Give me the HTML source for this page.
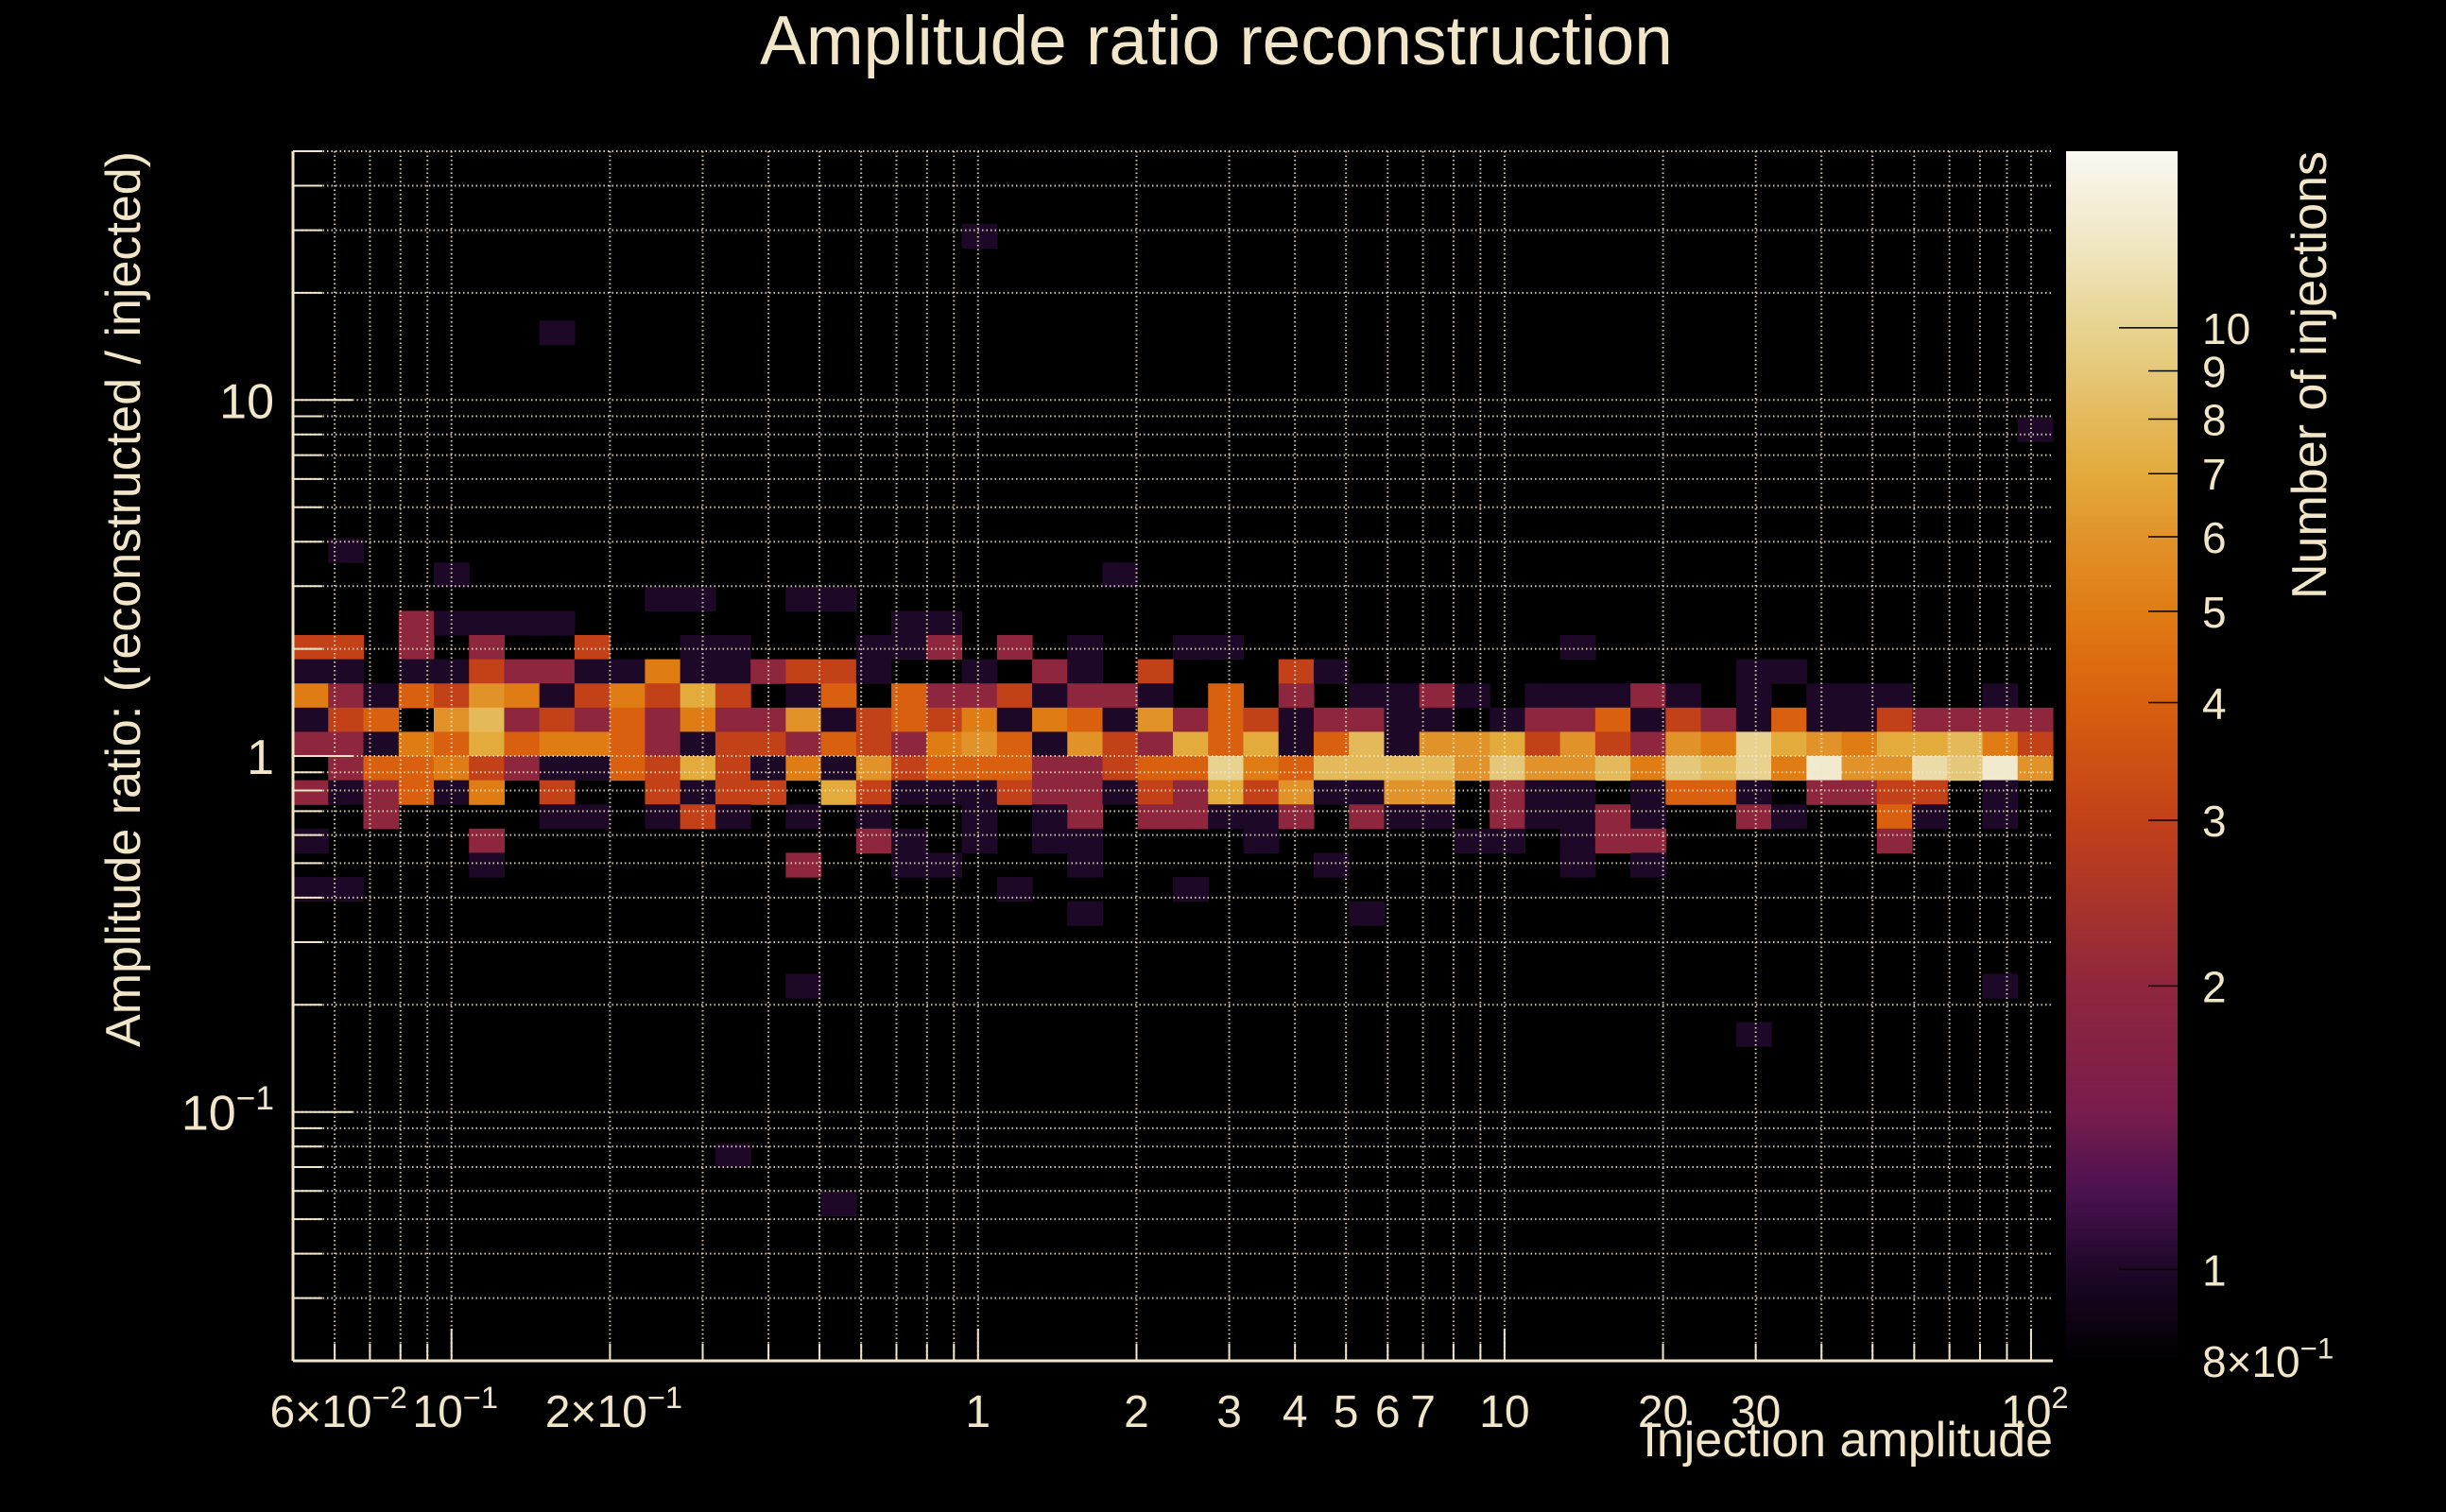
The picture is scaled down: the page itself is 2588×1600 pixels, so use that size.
<!DOCTYPE html>
<html><head><meta charset="utf-8"><style>
html,body{margin:0;padding:0;background:#000;}
svg{display:block;font-family:"Liberation Sans",sans-serif;}
</style></head><body>
<svg id="chart" width="2588" height="1600" viewBox="0 0 2588 1600" xmlns="http://www.w3.org/2000/svg">
<rect x="0" y="0" width="2588" height="1600" fill="#000"/>
<g id="cells"></g>
<g id="grid"></g>
<g id="axes"></g>
<g id="cbar"></g>
<text x="1287" y="68" fill="#f2e6c8" font-size="73" text-anchor="middle">Amplitude ratio reconstruction</text>
<text x="2172" y="1541" fill="#f2e6c8" font-size="52" text-anchor="end">Injection amplitude</text>
<text transform="translate(148,160) rotate(-90)" fill="#f2e6c8" font-size="52" text-anchor="end">Amplitude ratio: (reconstructed / injected)</text>
<text transform="translate(2461,160) rotate(-90)" fill="#f2e6c8" font-size="52" text-anchor="end">Number of injections</text>
</svg>
<script>
// ---- data ----
const xRange = [0.05, 110];
const yRange = [0.02, 50];
const nBinsX = 50;
const nBinsY = 50;
const zRange = [0.8, 15.4];
const bandRowStart = 18;
const bandRows = [
"00000000001100110000000000000000000000000000000000",
"00021111000000000110000000000000000000000000000000",
"33020200300110001120201001100000000010000000000000",
"11011322115112331001021030003100000000000110000000",
"52143651353730140422312210402011210111210101110010",
"13406823242522613435154162431221101224132141132222",
"22154745542133243256416327471481667363265a76577853",
"02445321143731516344422344a54888869668598a5d66b9d6",
"21241503003133073111322132736116602110144102233010",
"00200001101310101001012022112021102112100210041010",
"10000200000000002101011000010000011012200000020000",
"00000100000000200110001000000100000010100000000000",
"11000000000000000000100001000000000000000000000000",
"00000000000000000000001000000010000000000000000000"
];
const isolatedRows = [3, 7, 11, 16, 17, 17, 34, 34, 36, 41, 43];
const isolatedCols = [19, 7, 49, 1, 4, 23, 14, 48, 41, 12, 15];
const isolatedCounts = [1, 1, 1, 1, 1, 1, 1, 1, 1, 1, 1];
const xTickValues = [0.06, 0.1, 0.2, 1, 2, 3, 4, 5, 6, 7, 10, 20, 30, 100];
const xTickBase = ["6\u00d710", "10", "2\u00d710", "1", "2", "3", "4", "5", "6", "7", "10", "20", "30", "10"];
const xTickExp = ["\u22122", "\u22121", "\u22121", "", "", "", "", "", "", "", "", "", "", "2"];
const yTickValues = [10, 1, 0.1];
const yTickBase = ["10", "1", "10"];
const yTickExp = ["", "", "\u22121"];
const zTickValues = [10, 9, 8, 7, 6, 5, 4, 3, 2, 1, 0.8];
const zTickBase = ["10", "9", "8", "7", "6", "5", "4", "3", "2", "1", "8\u00d710"];
const zTickExp = ["", "", "", "", "", "", "", "", "", "", "\u22121"];

// ---- layout ----
const X0 = 310, X1 = 2172, Y0 = 160, Y1 = 1440;
const CB0 = 2186, CB1 = 2304;
const TXT = "#f2e6c8";
const NS = "http://www.w3.org/2000/svg";
const L = Math.log10;
function xPos(v){ return X0 + (L(v) - L(xRange[0])) / (L(xRange[1]) - L(xRange[0])) * (X1 - X0); }
function yPos(v){ return Y1 - (L(v) - L(yRange[0])) / (L(yRange[1]) - L(yRange[0])) * (Y1 - Y0); }
function zPos(v){ return Y1 - (L(v) - L(zRange[0])) / (L(zRange[1]) - L(zRange[0])) * (Y1 - Y0); }
function xEdge(i){ return Math.pow(10, L(xRange[0]) + i * (L(xRange[1]) - L(xRange[0])) / nBinsX); }
function yEdgeTop(r){ return Math.pow(10, L(yRange[1]) - r * (L(yRange[1]) - L(yRange[0])) / nBinsY); }
const stops = [
[0.0,[0,0,0]],[0.076,[30,8,40]],[0.14,[74,18,80]],[0.21,[122,29,76]],[0.31,[142,38,61]],
[0.448,[194,65,25]],[0.545,[216,96,15]],[0.62,[224,124,20]],[0.68,[225,146,42]],[0.73,[227,169,58]],
[0.78,[228,185,91]],[0.82,[229,200,122]],[0.855,[231,211,144]],[0.92,[239,229,192]],[1.0,[250,248,242]]];
function colorFor(z){
  let f = (L(z) - L(zRange[0])) / (L(zRange[1]) - L(zRange[0]));
  f = Math.max(0, Math.min(1, f));
  for (let i = 1; i < stops.length; i++){
    if (f <= stops[i][0]){
      const a = stops[i-1], b = stops[i], t = (f - a[0]) / (b[0] - a[0]);
      const c = a[1].map((v, k) => Math.round(v + (b[1][k] - v) * t));
      return "rgb(" + c.join(",") + ")";
    }
  }
  return "rgb(250,248,242)";
}
function mk(tag, attrs, parent){
  const e = document.createElementNS(NS, tag);
  for (const k in attrs) e.setAttribute(k, attrs[k]);
  parent.appendChild(e);
  return e;
}
const cells = document.getElementById("cells");
function drawCell(r, c, z){
  if (!z) return;
  const x = xPos(xEdge(c)), x2 = xPos(xEdge(c + 1));
  const y = yPos(yEdgeTop(r)), y2 = yPos(yEdgeTop(r + 1));
  const e = mk("rect", {x: x.toFixed(2), y: y.toFixed(2), width: (x2 - x + 0.6).toFixed(2), height: (y2 - y + 0.6).toFixed(2), fill: colorFor(z)}, cells);
  
  
}
bandRows.forEach((row, i) => {
  for (let c = 0; c < row.length; c++) drawCell(bandRowStart + i, c, parseInt(row[c], 16));
});
isolatedRows.forEach((r, i) => drawCell(r, isolatedCols[i], isolatedCounts[i]));

// grid
const grid = document.getElementById("grid");
const axes = document.getElementById("axes");
function logTicks(lo, hi){
  const out = [];
  for (let d = Math.floor(L(lo)); d <= Math.ceil(L(hi)); d++)
    for (let m = 1; m <= 9; m++){
      const v = m * Math.pow(10, d);
      if (v >= lo * 0.999 && v <= hi * 1.001) out.push([v, m === 1]);
    }
  return out;
}
logTicks(xRange[0], xRange[1]).forEach(([v, major]) => {
  const x = xPos(v);
  const g = mk("line", {x1: x, x2: x, y1: Y0, y2: Y1, stroke: TXT, "stroke-width": 2, "stroke-dasharray": "1.5 3", opacity: 0.85}, grid);
  
  
  const t = mk("line", {x1: x, x2: x, y1: Y1, y2: Y1 - (major ? 34 : 18), stroke: TXT, "stroke-width": 2}, axes);
  
  
});
logTicks(yRange[0], yRange[1]).forEach(([v, major]) => {
  const y = yPos(v);
  const g = mk("line", {x1: X0, x2: X1, y1: y, y2: y, stroke: TXT, "stroke-width": 2, "stroke-dasharray": "1.5 3", opacity: 0.85}, grid);
  
  
  const t = mk("line", {x1: X0, x2: X0 + (major ? 63 : 31), y1: y, y2: y, stroke: TXT, "stroke-width": 2}, axes);
  
  
});
const ax1 = mk("line", {x1: X0, x2: X0, y1: Y0, y2: Y1, stroke: TXT, "stroke-width": 3}, axes);


const ax2 = mk("line", {x1: X0, x2: X1, y1: Y1, y2: Y1, stroke: TXT, "stroke-width": 3}, axes);



function label(parent, x, y, base, exp, anchor, size, name){
  const t = mk("text", {x: x, y: y, fill: TXT, "font-size": size, "text-anchor": anchor}, parent);
  
  
  t.appendChild(document.createTextNode(base));
  if (exp){
    const s = mk("tspan", {dy: -size * 0.42, "font-size": size * 0.68}, t);
    s.textContent = exp;
  }
  return t;
}
xTickValues.forEach((v, i) => {
  const off = xTickExp[i] ? 4 : 0;
  label(axes, xPos(v) + off, 1510, xTickBase[i], xTickExp[i], "middle", 48, "x-tick-label");
});
yTickValues.forEach((v, i) => {
  label(axes, 290, yPos(v) + 19, yTickBase[i], yTickExp[i], "end", 52, "y-tick-label");
});

// color bar
const cbar = document.getElementById("cbar");
const N = 300;
for (let i = 0; i < N; i++){
  const z0 = Math.pow(10, L(zRange[0]) + (i / N) * (L(zRange[1]) - L(zRange[0])));
  const z1 = Math.pow(10, L(zRange[0]) + ((i + 1) / N) * (L(zRange[1]) - L(zRange[0])));
  const ya = zPos(z1), yb = zPos(z0);
  const r = mk("rect", {x: CB0, y: ya.toFixed(2), width: CB1 - CB0, height: (yb - ya + 0.8).toFixed(2), fill: colorFor(Math.sqrt(z0 * z1))}, cbar);
  
  
}
zTickValues.forEach((v, i) => {
  const y = zPos(v);
  const major = (v === 10 || v === 1);
  const t = mk("line", {x1: CB1 - (major ? 62 : 31), x2: CB1, y1: y, y2: y, stroke: "#000", "stroke-width": 1.5}, cbar);
  
  
  label(cbar, 2330, y + 17, zTickBase[i], zTickExp[i], "start", 46, "colorbar-tick-label");
});
</script>
</body></html>
